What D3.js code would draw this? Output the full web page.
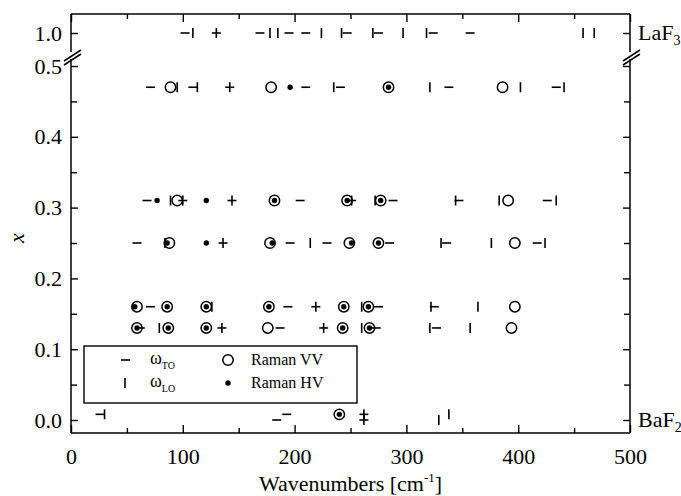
<!DOCTYPE html>
<html>
<head>
<meta charset="utf-8">
<script src="https://cdn.jsdelivr.net/npm/d3@7"></script>
<style>
  body { margin: 0; background: #fff; }
  svg { display: block; }
  svg text { font-family: "Liberation Serif", "DejaVu Serif", serif !important; fill: #000; }
</style>
</head>
<body>
<svg id="chart" width="681" height="496" font-family="Liberation Serif, serif"></svg>
<script>
// ---------------- data ----------------
const xTicks = [0, 100, 200, 300, 400, 500];
const xMinorTicks = [50, 150, 250, 350, 450];
const yTicksLow = [0.0, 0.1, 0.2, 0.3, 0.4, 0.5];
const yMinorTicks = [0.05, 0.15, 0.25, 0.35, 0.45];
const yTicksHigh = [1.0];

// [x (La content), wavenumber cm^-1]
const omegaTO = [
  [1.0,102],[1.0,130],[1.0,169],[1.0,195],[1.0,210],[1.0,247],[1.0,275],[1.0,324],[1.0,357],
  [0.47,71],[0.47,109],[0.47,142],[0.47,210],[0.47,241],[0.47,338],[0.47,434],
  [0.31,68],[0.31,100],[0.31,144],[0.31,205],[0.31,251],[0.31,288],[0.31,347],[0.31,426],
  [0.25,59],[0.25,136],[0.25,196],[0.25,229],[0.25,285],[0.25,336],[0.25,417],
  [0.16,71],[0.16,194],[0.16,219],[0.16,275],[0.16,325],
  [0.13,62],[0.13,135],[0.13,187],[0.13,226],[0.13,273],[0.13,327],
  [0.008,26],[0.008,193],[0.008,262],[0.0,184],[0.0,262]
];
const omegaLO = [
  [1.0,109],[1.0,130],[1.0,178],[1.0,185],[1.0,224],[1.0,242],[1.0,270],[1.0,297],[1.0,318],[1.0,458],[1.0,468],
  [0.47,95],[0.47,113],[0.47,142],[0.47,235],[0.47,321],[0.47,402],[0.47,441],
  [0.31,89],[0.31,100],[0.31,144],[0.31,251],[0.31,272],[0.31,344],[0.31,383],[0.31,434],
  [0.25,84],[0.25,136],[0.25,214],[0.25,331],[0.25,376],[0.25,424],
  [0.16,126],[0.16,219],[0.16,260],[0.16,322],[0.16,364],
  [0.13,79],[0.13,135],[0.13,226],[0.13,260],[0.13,321],[0.13,357],
  [0.008,30],[0.008,262],[0.008,338],[0.0,262],[0.0,329]
];
const ramanVV = [
  [0.47,89],[0.47,179],[0.47,284],[0.47,386],
  [0.31,95],[0.31,182],[0.31,247],[0.31,277],[0.31,391],
  [0.25,88],[0.25,178],[0.25,249],[0.25,275],[0.25,397],
  [0.16,59],[0.16,86],[0.16,121],[0.16,177],[0.16,244],[0.16,266],[0.16,397],
  [0.13,59],[0.13,87],[0.13,121],[0.13,176],[0.13,243],[0.13,267],[0.13,394],
  [0.008,240]
];
const ramanHV = [
  [0.47,196],[0.47,284],
  [0.31,77],[0.31,121],[0.31,182],[0.31,247],[0.31,277],
  [0.25,86],[0.25,121],[0.25,180],[0.25,251],[0.25,275],
  [0.16,57],[0.16,86],[0.16,121],[0.16,177],[0.16,244],[0.16,266],
  [0.13,59],[0.13,87],[0.13,121],[0.13,243],[0.13,267],
  [0.008,240]
];

// ---------------- layout ----------------
const svg = d3.select("#chart");
const L = 71, R = 630, T = 14, B = 433;
const breakTop = 52, breakBot = 59;
const SERIF = "Liberation Serif, serif";

const x = d3.scaleLinear().domain([0, 500]).range([L, R]);
const yLow = d3.scaleLinear().domain([0, 0.5]).range([420, 66]);
const yHigh = d3.scaleLinear().domain([0.95, 1.05]).range([45, 21]);
const y = v => v > 0.75 ? yHigh(v) : yLow(v);

const fontSize = 22;

// frame
const frame = svg.append("g").attr("stroke", "#000").attr("stroke-width", 1.5).attr("fill", "none");
frame.append("line").attr("x1", L).attr("x2", R).attr("y1", B).attr("y2", B);
frame.append("line").attr("x1", L).attr("x2", R).attr("y1", T).attr("y2", T);
[L, R].forEach(xx => {
  frame.append("line").attr("x1", xx).attr("x2", xx).attr("y1", T).attr("y2", breakTop);
  frame.append("line").attr("x1", xx).attr("x2", xx).attr("y1", breakBot).attr("y2", B);
  frame.append("line").attr("x1", xx - 7).attr("y1", breakTop + 9).attr("x2", xx + 10).attr("y2", breakTop - 2);
  frame.append("line").attr("x1", xx - 7).attr("y1", breakBot + 6).attr("x2", xx + 10).attr("y2", breakBot - 5);
});

function styleAxis(g) {
  g.attr("font-family", SERIF);
  g.select(".domain").remove();
  g.selectAll(".tick line").attr("stroke", "#000").attr("stroke-width", 1.4);
  g.selectAll(".tick text").attr("font-size", fontSize).attr("font-family", SERIF).attr("fill", "#000");
}

// bottom axis
svg.append("g").attr("transform", `translate(0,${B})`)
  .call(d3.axisBottom(x).tickValues(xTicks).tickSizeInner(-8).tickSizeOuter(0).tickPadding(15).tickFormat(d3.format("d")))
  .call(styleAxis);
svg.append("g").attr("transform", `translate(0,${B})`)
  .call(d3.axisBottom(x).tickValues(xMinorTicks).tickSizeInner(-5).tickSizeOuter(0).tickFormat(""))
  .call(styleAxis);
// top axis
svg.append("g").attr("transform", `translate(0,${T})`)
  .call(d3.axisTop(x).tickValues(xTicks).tickSizeInner(-8).tickSizeOuter(0).tickFormat(""))
  .call(styleAxis);
svg.append("g").attr("transform", `translate(0,${T})`)
  .call(d3.axisTop(x).tickValues(xMinorTicks).tickSizeInner(-5).tickSizeOuter(0).tickFormat(""))
  .call(styleAxis);

// left axis
svg.append("g").attr("transform", `translate(${L},0)`)
  .call(d3.axisLeft(yLow).tickValues(yTicksLow).tickSizeInner(-7).tickSizeOuter(0).tickPadding(9).tickFormat(d3.format(".1f")))
  .call(styleAxis);
svg.append("g").attr("transform", `translate(${L},0)`)
  .call(d3.axisLeft(yLow).tickValues(yMinorTicks).tickSizeInner(-6).tickSizeOuter(0).tickFormat(""))
  .call(styleAxis);
svg.append("g").attr("transform", `translate(${L},0)`)
  .call(d3.axisLeft(yHigh).tickValues(yTicksHigh).tickSizeInner(-7).tickSizeOuter(0).tickPadding(9).tickFormat(d3.format(".1f")))
  .call(styleAxis);
// right axis
svg.append("g").attr("transform", `translate(${R},0)`)
  .call(d3.axisRight(yLow).tickValues(yTicksLow).tickSizeInner(-7).tickSizeOuter(0).tickFormat(""))
  .call(styleAxis);
svg.append("g").attr("transform", `translate(${R},0)`)
  .call(d3.axisRight(yLow).tickValues(yMinorTicks).tickSizeInner(-6).tickSizeOuter(0).tickFormat(""))
  .call(styleAxis);
svg.append("g").attr("transform", `translate(${R},0)`)
  .call(d3.axisRight(yHigh).tickValues(yTicksHigh).tickSizeInner(-7).tickSizeOuter(0).tickFormat(""))
  .call(styleAxis);

// axis titles
const xt = svg.append("text").attr("x", (L + R) / 2).attr("y", 491).attr("text-anchor", "middle")
  .attr("font-size", fontSize).attr("font-family", SERIF);
xt.append("tspan").text("Wavenumbers [cm");
xt.append("tspan").attr("font-size", 13).attr("dy", -9).text("-1");
xt.append("tspan").attr("dy", 9).text("]");

svg.append("text").attr("transform", "translate(24,238) rotate(-90)").attr("text-anchor", "middle")
  .attr("font-size", fontSize).attr("font-family", SERIF).attr("font-style", "italic").text("x");

// right labels
const la = svg.append("text").attr("x", 638).attr("y", y(1.0) + 7).attr("font-size", fontSize).attr("font-family", SERIF);
la.append("tspan").text("LaF");
la.append("tspan").attr("font-size", 14).attr("dy", 5).text("3");
const ba = svg.append("text").attr("x", 638).attr("y", yLow(0) + 7).attr("font-size", fontSize).attr("font-family", SERIF);
ba.append("tspan").text("BaF");
ba.append("tspan").attr("font-size", 14).attr("dy", 5).text("2");

// markers
const marks = svg.append("g").attr("stroke", "#000").attr("stroke-width", 1.6);
marks.selectAll(".to").data(omegaTO).join("line").attr("class", "to")
  .attr("x1", d => x(d[1]) - 4.5).attr("x2", d => x(d[1]) + 4.5)
  .attr("y1", d => y(d[0])).attr("y2", d => y(d[0]));
marks.selectAll(".lo").data(omegaLO).join("line").attr("class", "lo")
  .attr("x1", d => x(d[1])).attr("x2", d => x(d[1]))
  .attr("y1", d => y(d[0]) - 5).attr("y2", d => y(d[0]) + 5);
marks.selectAll(".vv").data(ramanVV).join("circle").attr("class", "vv")
  .attr("cx", d => x(d[1])).attr("cy", d => y(d[0])).attr("r", 5.2).attr("fill", "none").attr("stroke-width", 1.5);
marks.selectAll(".hv").data(ramanHV).join("circle").attr("class", "hv")
  .attr("cx", d => x(d[1])).attr("cy", d => y(d[0])).attr("r", 2.7).attr("fill", "#000").attr("stroke", "none");

// legend
const lg = svg.append("g").attr("font-family", SERIF);
lg.append("rect").attr("x", 84).attr("y", 346).attr("width", 273).attr("height", 57)
  .attr("fill", "#fff").attr("stroke", "#000").attr("stroke-width", 1.4);
lg.append("line").attr("x1", 121).attr("x2", 130).attr("y1", 360).attr("y2", 360).attr("stroke", "#000").attr("stroke-width", 1.6);
lg.append("line").attr("x1", 125).attr("x2", 125).attr("y1", 378).attr("y2", 388).attr("stroke", "#000").attr("stroke-width", 1.6);
const t1 = lg.append("text").attr("x", 150).attr("y", 364).attr("font-size", 18);
t1.append("tspan").text("ω");
t1.append("tspan").attr("font-size", 10).attr("dy", 5).text("TO");
const t2 = lg.append("text").attr("x", 150).attr("y", 387).attr("font-size", 18);
t2.append("tspan").text("ω");
t2.append("tspan").attr("font-size", 10).attr("dy", 5).text("LO");
lg.append("circle").attr("cx", 228).attr("cy", 360).attr("r", 5.2).attr("fill", "none").attr("stroke", "#000").attr("stroke-width", 1.5);
lg.append("circle").attr("cx", 228).attr("cy", 383).attr("r", 2.7).attr("fill", "#000");
lg.append("text").attr("x", 251).attr("y", 365).attr("font-size", 16).text("Raman VV");
lg.append("text").attr("x", 251).attr("y", 388).attr("font-size", 16).text("Raman HV");
</script>
</body>
</html>
